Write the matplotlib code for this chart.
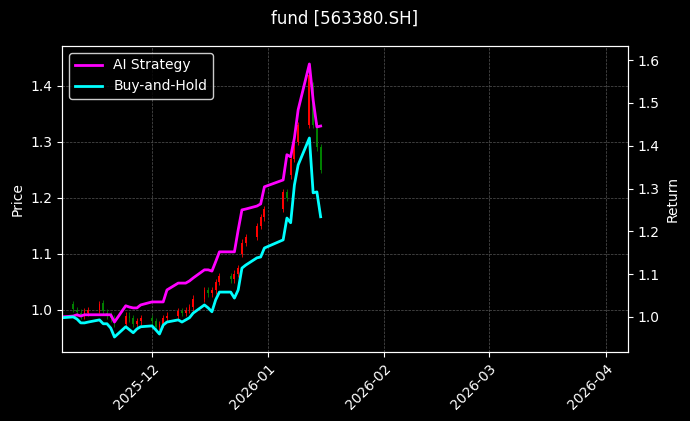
import matplotlib
matplotlib.use("Agg")
import matplotlib.pyplot as plt
import matplotlib.dates as mdates
import pandas as pd
import numpy as np

dates = pd.to_datetime([
 "2025-11-07","2025-11-10","2025-11-11","2025-11-12","2025-11-13","2025-11-14",
 "2025-11-17","2025-11-18","2025-11-19","2025-11-20","2025-11-21",
 "2025-11-24","2025-11-25","2025-11-26","2025-11-27","2025-11-28",
 "2025-12-01","2025-12-02","2025-12-03","2025-12-04","2025-12-05",
 "2025-12-08","2025-12-09","2025-12-10","2025-12-11","2025-12-12",
 "2025-12-15","2025-12-16","2025-12-17","2025-12-18","2025-12-19",
 "2025-12-22","2025-12-23","2025-12-24","2025-12-25","2025-12-26",
 "2025-12-29","2025-12-30","2025-12-31",
 "2026-01-05","2026-01-06","2026-01-07","2026-01-08","2026-01-09",
 "2026-01-12","2026-01-13","2026-01-14","2026-01-15"])

ai_return = [1.000,1.002,1.005,1.002,1.005,1.005,1.005,1.005,1.005,1.005,0.988,
 1.026,1.023,1.021,1.021,1.028,1.035,1.035,1.035,1.035,1.063,
 1.079,1.079,1.079,1.084,1.091,1.110,1.110,1.107,1.129,1.152,
 1.152,1.152,1.203,1.250,1.252,1.259,1.264,1.304,
 1.320,1.379,1.374,1.418,1.484,1.591,1.507,1.444,1.446]
bh_return = [0.998,1.000,0.995,0.986,0.986,0.988,0.993,0.984,0.984,0.974,0.953,
 0.977,0.970,0.963,0.972,0.977,0.979,0.970,0.960,0.981,0.988,
 0.993,0.988,0.993,0.998,1.009,1.028,1.021,1.012,1.040,1.058,
 1.058,1.044,1.063,1.114,1.121,1.138,1.140,1.161,
 1.180,1.231,1.220,1.308,1.355,1.418,1.290,1.292,1.234]
opens = [1.005,1.010,1.000,0.995,0.990,0.995,1.000,1.012,0.995,0.990,0.985,
 0.975,0.990,0.985,0.975,0.980,0.985,0.980,0.970,0.975,0.985,
 0.990,0.998,0.995,1.000,1.005,1.020,1.035,1.030,1.035,1.050,
 1.060,1.055,1.065,1.100,1.120,1.130,1.150,1.165,
 1.180,1.210,1.240,1.270,1.300,1.330,1.400,1.330,1.290]
closes = [1.012,1.002,0.996,0.990,0.998,1.000,1.010,0.998,0.990,0.985,0.975,
 0.990,0.985,0.975,0.980,0.985,0.980,0.970,0.975,0.985,0.990,
 0.998,0.995,1.000,1.005,1.020,1.035,1.030,1.035,1.050,1.060,
 1.055,1.065,1.075,1.120,1.130,1.150,1.165,1.180,
 1.210,1.200,1.270,1.300,1.330,1.420,1.330,1.290,1.250]

fig = plt.figure(figsize=(6.9, 4.21), dpi=100, facecolor="black")
ax = fig.add_axes([62/690, 1-352/421, 566/690, 306/421], facecolor="black")
ax2 = ax.twinx()
fig.suptitle("fund [563380.SH]", color="white", fontsize=12, y=0.978)

x = mdates.date2num(dates)
for xi, o, c in zip(x, opens, closes):
    col = "red" if c >= o else "green"
    lo, hi = min(o, c), max(o, c)
    ax.vlines(xi, lo - 0.006, hi + 0.006, color=col, lw=0.6)
    ax.bar(xi, hi - lo, bottom=lo, width=0.5, color=col, edgecolor=col, lw=0)

ax2.plot(dates, ai_return, color="#ff00ff", lw=2, label="AI Strategy")
ax2.plot(dates, bh_return, color="#00ffff", lw=2, label="Buy-and-Hold")

ax.set_xlim(mdates.date2num(pd.Timestamp("2025-11-07")), mdates.date2num(pd.Timestamp("2026-04-07")))
ax.set_ylim(0.925, 1.471)
ax2.set_ylim(0.918, 1.633)
ax.set_yticks([1.0, 1.1, 1.2, 1.3, 1.4])
ax2.set_yticks([1.0, 1.1, 1.2, 1.3, 1.4, 1.5, 1.6])
ax.xaxis.set_major_locator(mdates.MonthLocator())
ax.xaxis.set_major_formatter(mdates.DateFormatter("%Y-%m"))
plt.setp(ax.get_xticklabels(), rotation=45, ha="right", rotation_mode="anchor")
ax.grid(True, color="#555555", ls="--", lw=0.5)
ax.set_ylabel("Price", color="white")
ax2.set_ylabel("Return", color="white")
for a in (ax, ax2):
    a.tick_params(colors="white")
    for s in a.spines.values():
        s.set_color("white")
leg = ax2.legend(loc="upper left", facecolor="black", edgecolor="white", labelcolor="white")
fig.savefig("out.png", dpi=100, facecolor="black")
